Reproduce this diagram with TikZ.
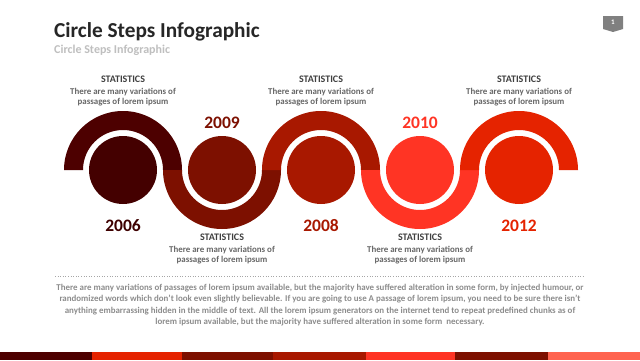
\documentclass[tikz,border=0pt]{standalone}
\usepackage{fontspec}
\setmainfont{Carlito}
\usepackage{xcolor}
\usepackage{tikz}
\usetikzlibrary{positioning}
\definecolor{stepone}{HTML}{4D0000}
\definecolor{steptwo}{HTML}{7D1000}
\definecolor{stepthree}{HTML}{A81800}
\definecolor{stepfour}{HTML}{FF3424}
\definecolor{stepfive}{HTML}{E52300}
\definecolor{stepsix}{HTML}{FF6450}
\definecolor{headgray}{HTML}{404040}
\definecolor{bodygray}{HTML}{666666}
\definecolor{textgray}{HTML}{8C8C8C}
\tikzset{
    dot/.style={circle, inner sep=0pt, minimum size=68pt},
    stathead/.style={font=\fontsize{10}{11}\selectfont\bfseries, text=headgray, inner sep=0pt},
    statbody/.style={font=\fontsize{8.9}{10.6}\selectfont\bfseries, text=bodygray, align=center, inner sep=0pt},
    yearlabel/.style={font=\fontsize{17.5}{17.5}\selectfont\bfseries, inner sep=0pt},
}

\begin{document}
\begin{tikzpicture}[x=1pt, y=1pt]
    \fill[white] (0,0) rectangle (640,360);
    \useasboundingbox (0,0) rectangle (640,360);

    % title
    \node[font=\fontsize{21.3}{21.3}\selectfont\bfseries, text=black!85, anchor=base west, inner sep=0pt] (title) at (54,323) {Circle Steps Infographic};
    \node[font=\fontsize{12}{12}\selectfont\bfseries, text=black!25, anchor=base west, inner sep=0pt] (subtitle) at (54,307) {Circle Steps Infographic};
    \fill[black!50] (603,344) -- (623,344) -- (623,331) -- (613,328) -- (603,331) -- cycle;
    \node[font=\fontsize{7}{7}\selectfont\bfseries, text=white, inner sep=0pt] (pagenum) at (613,337.5) {1};

    % half rings
    \fill[stepone] (64,190) arc[start angle=180, end angle=0, radius=59] -- ++(-19,0) arc[start angle=0, end angle=180, radius=40] -- cycle;
    \fill[steptwo] (163,190) arc[start angle=180, end angle=360, radius=59] -- ++(-19,0) arc[start angle=360, end angle=180, radius=40] -- cycle;
    \fill[stepthree] (262,190) arc[start angle=180, end angle=0, radius=59] -- ++(-19,0) arc[start angle=0, end angle=180, radius=40] -- cycle;
    \fill[stepfour] (361,190) arc[start angle=180, end angle=360, radius=59] -- ++(-19,0) arc[start angle=360, end angle=180, radius=40] -- cycle;
    \fill[stepfive] (460,190) arc[start angle=180, end angle=0, radius=59] -- ++(-19,0) arc[start angle=0, end angle=180, radius=40] -- cycle;

    % circles
    \node[dot, fill=stepone!88!black] (dot2006) at (123,190) {};
    \node[dot, fill=steptwo] (dot2009) at (222,190) {};
    \node[dot, fill=stepthree] (dot2008) at (321,190) {};
    \node[dot, fill=stepfour] (dot2010) at (420,190) {};
    \node[dot, fill=stepfive] (dot2012) at (519,190) {};

    % years
    \node[yearlabel, text=stepone!80!black] (year2006) at (123,134) {2006};
    \node[yearlabel, text=steptwo] (year2009) at (222,237) {2009};
    \node[yearlabel, text=stepthree] (year2008) at (321,134) {2008};
    \node[yearlabel, text=stepfour] (year2010) at (420,237) {2010};
    \node[yearlabel, text=stepfive] (year2012) at (519,134) {2012};

    % statistics
    \node[stathead] (headA) at (123,281) {STATISTICS};
    \node[statbody] (bodyA) at (123,263) {There are many variations of\\passages of lorem ipsum};
    \node[stathead] (headB) at (222,123) {STATISTICS};
    \node[statbody] (bodyB) at (222,105) {There are many variations of\\passages of lorem ipsum};
    \node[stathead] (headC) at (321,281) {STATISTICS};
    \node[statbody] (bodyC) at (321,263) {There are many variations of\\passages of lorem ipsum};
    \node[stathead] (headD) at (420,123) {STATISTICS};
    \node[statbody] (bodyD) at (420,105) {There are many variations of\\passages of lorem ipsum};
    \node[stathead] (headE) at (519,281) {STATISTICS};
    \node[statbody] (bodyE) at (519,263) {There are many variations of\\passages of lorem ipsum};

    % paragraph
    \draw[black!35, dotted, line width=0.6pt] (55,83.5) -- (585,83.5);
    \node[font=\fontsize{8.9}{11.3}\selectfont\bfseries, text=textgray, align=center, inner sep=0pt] (para) at (320,55)
        {There are many variations of passages of lorem ipsum available, but the majority have suffered alteration in some form, by injected humour, or\\
         randomized words which don't look even slightly believable. If you are going to use A passage of lorem ipsum, you need to be sure there isn't\\
         anything embarrassing hidden in the middle of text. All the lorem ipsum generators on the internet tend to repeat predefined chunks as of\\
         lorem ipsum available, but the majority have suffered alteration in some form\ \ necessary.};

    % bottom bar
    \fill[stepone] (0,0) rectangle (92,8);
    \fill[stepfive] (92,0) rectangle (182,8);
    \fill[steptwo] (182,0) rectangle (273,8);
    \fill[stepthree] (273,0) rectangle (366,8);
    \fill[stepfour] (366,0) rectangle (455,8);
    \fill[steptwo] (455,0) rectangle (548,8);
    \fill[stepsix] (548,0) rectangle (640,8);
\end{tikzpicture}
\end{document}
